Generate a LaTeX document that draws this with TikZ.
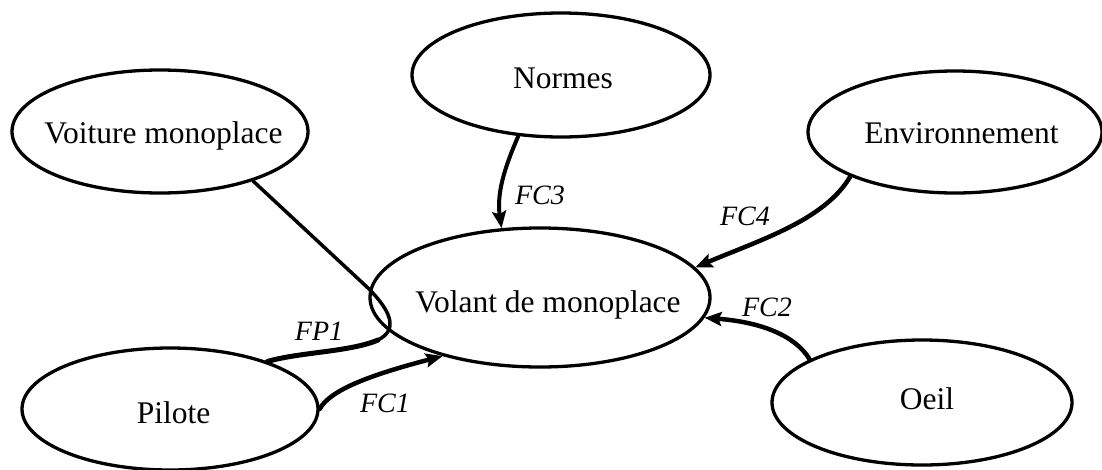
\documentclass[tikz,border=0pt]{standalone}
\usepackage{fontspec}
\setmainfont{Liberation Serif}
\usetikzlibrary{shapes.geometric,arrows.meta}
\newcommand\placetxt[3]{\makebox[0pt]{\kern#1\raisebox{#2}{#3}\kern-#1}}
\begin{document}
\begin{tikzpicture}[x=1pt,y=-1pt,
  ell/.style={draw,ellipse,line width=3.3pt,inner sep=0pt,text height=22pt,text depth=7pt,
    font=\fontsize{31.5}{36}\selectfont},
  conn/.style={line width=4pt,line cap=round},
  arr/.style={conn,-{Stealth[length=17pt,width=14pt,inset=3pt]}},
  lab/.style={font=\fontsize{28}{32}\selectfont\itshape,inner sep=0pt}]
\useasboundingbox (0,0) rectangle (1102,469);
\fill[white] (0,0) rectangle (1102,469);
\node[ell,minimum width=298pt,minimum height=124pt] (norm) at (561,75) {\placetxt{2pt}{-5.5pt}{Normes}};
\node[ell,minimum width=296pt,minimum height=123pt] (voit) at (160,131.5) {\placetxt{3.5pt}{-4pt}{Voiture monoplace}};
\node[ell,minimum width=294pt,minimum height=122pt] (env) at (955,132) {\placetxt{6.5pt}{-3.5pt}{Environnement}};
\node[ell,minimum width=340pt,minimum height=139pt] (vol) at (540,297.5) {\placetxt{8pt}{-7pt}{Volant de monoplace}};
\node[ell,minimum width=296pt,minimum height=122pt] (pil) at (170,409) {\placetxt{3.5pt}{-6.5pt}{Pilote}};
\node[ell,minimum width=300pt,minimum height=125pt] (oeil) at (922,402.5) {\placetxt{5pt}{1pt}{Oeil}};
% connectors
\coordinate (fpa) at (368,288);
\coordinate (fpb) at (378,340);
\draw[conn,line width=3.5pt] (voit.332) -- (fpa) .. controls (392,312) and (398,330) .. (fpb);
\draw[conn,line width=5pt] (fpb) .. controls (350,352) and (300,352) .. (pil.26);
\draw[arr,line width=4.5pt] (pil.0) .. controls (330,390) and (370,375) .. (vol.211);
\draw[arr] (norm.235) .. controls (508,160) and (496,190) .. (vol.119);
\draw[arr,line width=4.5pt] (env.203) .. controls (825,220) and (760,240) .. (vol.11);
\draw[arr,line width=4.5pt] (oeil.159) .. controls (795,335) and (760,322) .. (vol.353);
% labels
\node[lab] (lfp1) at (319,331) {FP1};
\node[lab] (lfc1) at (385,403) {FC1};
\node[lab] (lfc3) at (540,195) {FC3};
\node[lab] (lfc4) at (745,216) {FC4};
\node[lab] (lfc2) at (767,307) {FC2};
\end{tikzpicture}
\end{document}
